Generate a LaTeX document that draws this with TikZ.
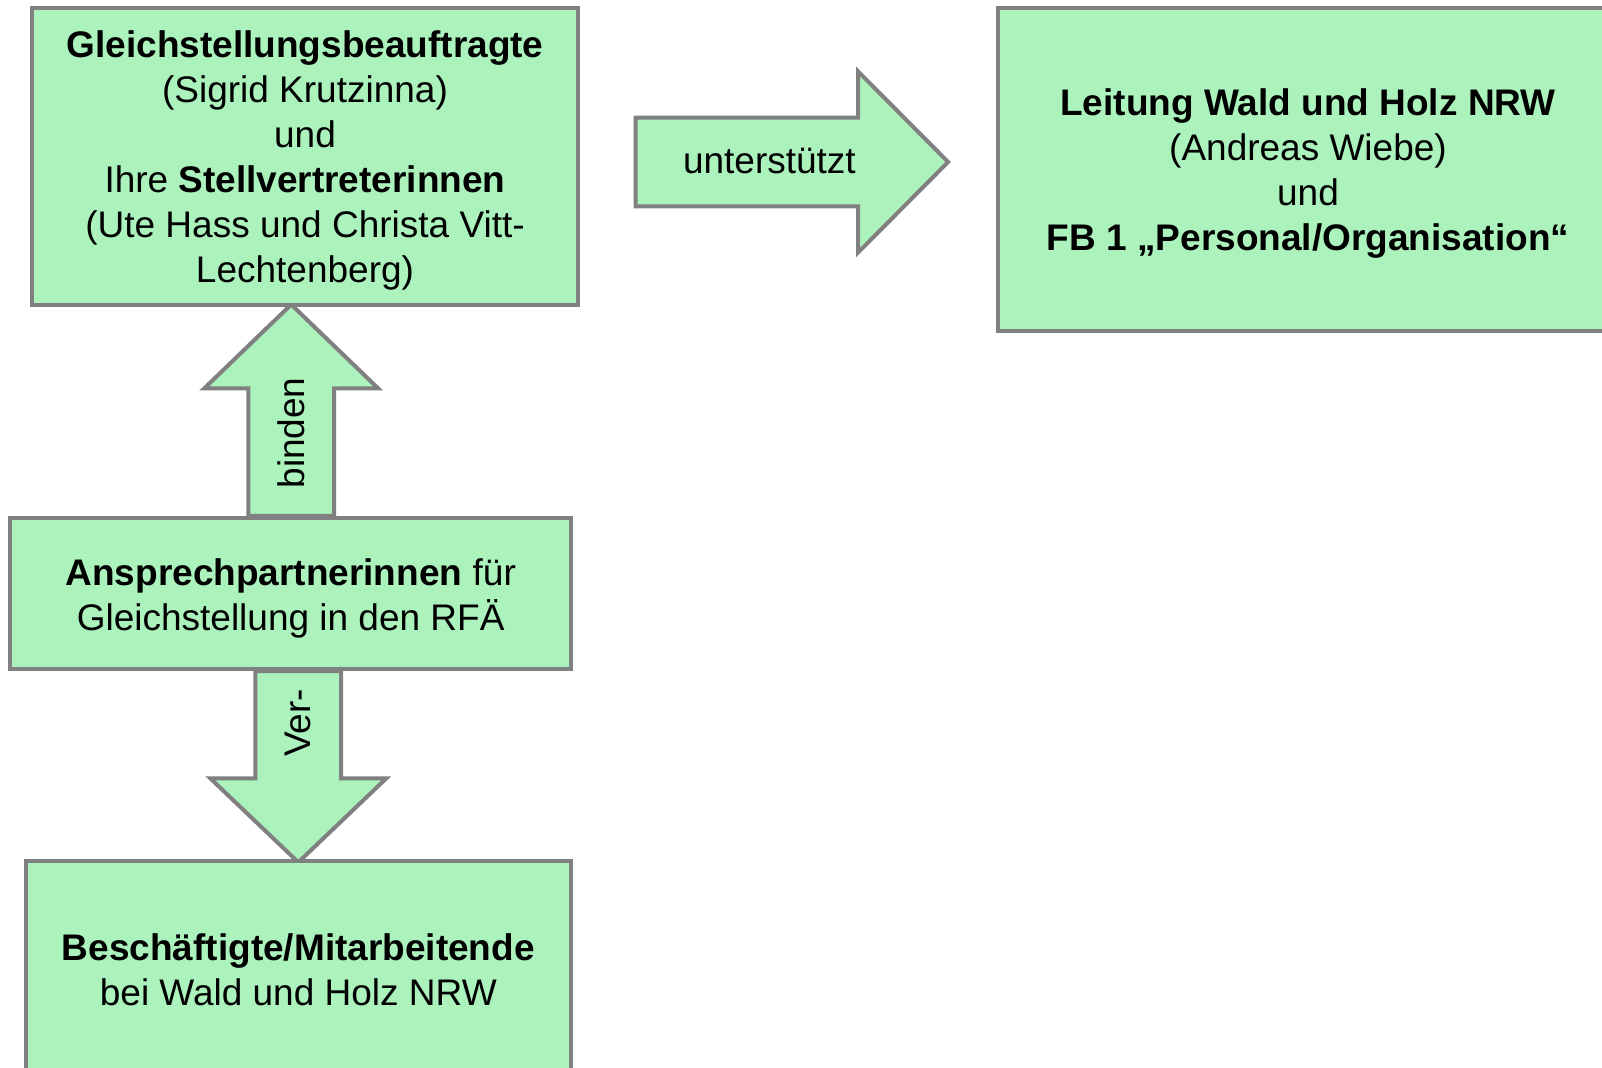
\documentclass[tikz,border=0pt]{standalone}
\usepackage{fontspec}
\setmainfont{Liberation Sans}
\usetikzlibrary{calc,backgrounds}
\definecolor{boxgreen}{RGB}{171,242,188}
\definecolor{boxgrey}{RGB}{128,128,128}
% taller first line, pushes the text a little down in its box
\newcommand{\lowstrut}{\rule{0pt}{17.8pt}}

\begin{document}
\begin{tikzpicture}[x=0.5pt, y=-0.5pt, line join=miter]
  % one unit is one pixel of the reference, y runs downwards
  \tikzset{
    box_edges/.style={line width=2pt, draw=boxgrey},
    box_colour/.style={fill=boxgreen},
    box_font/.style={font=\fontsize{18.5}{22.5}\selectfont},
    box/.style={box_edges, box_colour, box_font, align=center, inner sep=0pt},
    arrow_text/.style={box_font, inner sep=0pt},
  }
  \useasboundingbox (0,0) rectangle (1602,1068);

  \node[box, minimum width=273.3pt, minimum height=148.2pt] (gleichst) at (305,156.4)
    {\lowstrut\textbf{Gleichstellungsbeauftragte}\\(Sigrid Krutzinna)\\und\\Ihre \textbf{Stellvertreterinnen}\\(Ute Hass und Christa Vitt-\\Lechtenberg)};
  \node[box, minimum width=309.8pt, minimum height=161.4pt] (leitung) at (1308,169.6)
    {\lowstrut\textbf{Leitung Wald und Holz NRW}\\(Andreas Wiebe)\\und\\\textbf{FB 1 „Personal/Organisation“}};
  \node[box, minimum width=280.5pt, minimum height=75.6pt] (ansprech) at (290.7,593.6)
    {\lowstrut\textbf{Ansprechpartnerinnen} für\\Gleichstellung in den RFÄ};
  \node[box, minimum width=272.8pt, minimum height=108.7pt] (beschaeft) at (298.3,970)
    {\textbf{Beschäftigte/Mitarbeitende}\\bei Wald und Holz NRW};
  \coordinate (unterst_base) at (635.5,162);

  % block arrows: rotation, base point, x offset, half shaft, shaft length, half head, head length
  \begin{scope}[on background layer]
  \foreach \theta/\base/\dx/\sw/\shaft/\hw/\hl in {
    -90/unterst_base/0/44.45/222.7/90.45/89.9,
    0/ansprech.north/0.5/42.9/127.7/86.85/83.8,
    180/ansprech.south/7.6/42.9/107.3/87.85/83.8
  }{
  \begin{scope}[shift={($(\base)+(\dx,0)$)}, rotate=\theta]
    \draw[box_edges, box_colour]
      (-\sw,0)          --
      ++(0,-\shaft)     --
      ++({\sw-\hw},0)   --
      ++(\hw,-\hl)      --
      ++(\hw,\hl)       --
      ++({\sw-\hw},0)   --
      ++(0,\shaft)      --
      cycle;
  \end{scope}
  }
  \end{scope}

  \node[arrow_text] (unterst) at (769.4,161.4) {unterstützt};
  \node[arrow_text, rotate=90] (binden) at (291,433) {binden};
  \node[arrow_text, rotate=90] (ver) at (298,723) {Ver-};
\end{tikzpicture}
\end{document}
